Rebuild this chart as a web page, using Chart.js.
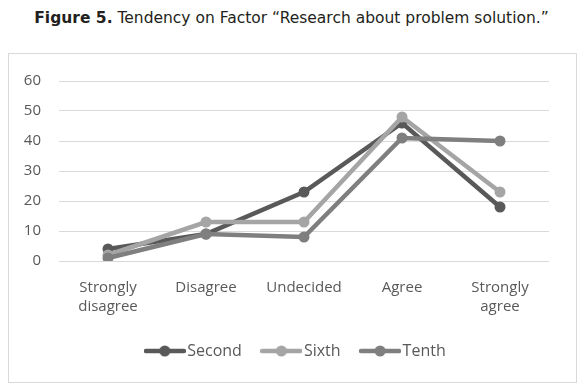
<!DOCTYPE html>
<html>
<head>
<meta charset="utf-8">
<script src="https://cdn.jsdelivr.net/npm/chart.js@4.4.1/dist/chart.umd.min.js"></script>
<style>
  html, body { margin: 0; padding: 0; background: #ffffff; }
  body { width: 580px; height: 388px; position: relative; overflow: hidden; }
  #title { position: absolute; left: 0; top: 8px; width: 583px; text-align: center; white-space: nowrap;
           font-family: "DejaVu Sans", sans-serif; font-size: 15.5px; line-height: 20px; color: #231f20; }
  #title b { font-weight: 700; }
  #box { position: absolute; left: 8px; top: 53px; width: 567px; height: 328px;
         border: 1px solid #d9d9d9; box-sizing: content-box; }
  #chart { display: block; }
</style>
</head>
<body>
<div id="title"><b>Figure 5.</b> Tendency on Factor “Research about problem solution.”</div>
<div id="box"><canvas id="chart" width="567" height="328"></canvas></div>
<script>
const categories = [["Strongly", "disagree"], "Disagree", "Undecided", "Agree", ["Strongly", "agree"]];
const seriesNames = ["Second", "Sixth", "Tenth"];
const secondValues = [4, 9, 23, 46, 18];
const sixthValues = [2, 13, 13, 48, 23];
const tenthValues = [1, 9, 8, 41, 40];
const yTicks = [0, 10, 20, 30, 40, 50, 60];

const colors = ["#595959", "#a5a5a5", "#7f7f7f"];
const FONT = "'Open Sans', sans-serif";

function legendIcon(color) {
  const c = document.createElement('canvas');
  c.width = 42; c.height = 14;
  const g = c.getContext('2d');
  g.strokeStyle = color; g.lineWidth = 4.5; g.lineCap = 'round';
  g.beginPath(); g.moveTo(2, 7); g.lineTo(40, 7); g.stroke();
  g.fillStyle = color;
  g.beginPath(); g.arc(21, 7, 5.5, 0, Math.PI * 2); g.fill();
  return c;
}
const icons = colors.map(legendIcon);

const shiftLegend = {
  id: 'shiftLegend',
  afterLayout(chart) {
    if (chart.legend) { chart.legend.left += 19; chart.legend.right += 19; }
  }
};

const dataSeries = [secondValues, sixthValues, tenthValues];
const datasets = dataSeries.map((vals, i) => ({
  label: seriesNames[i],
  data: vals,
  borderColor: colors[i],
  backgroundColor: colors[i],
  borderWidth: 4.5,
  pointRadius: 5.5,
  pointHoverRadius: 5.5,
  pointBorderWidth: 0,
  pointBackgroundColor: colors[i],
  tension: 0,
  order: 3 - i
}));

new Chart(document.getElementById('chart'), {
  type: 'line',
  data: { labels: categories, datasets: datasets },
  plugins: [shiftLegend],
  options: {
    responsive: false,
    animation: false,
    layout: { padding: { left: 0, right: 27, top: 25, bottom: 13 } },
    plugins: {
      title: { display: false },
      tooltip: { enabled: false },
      legend: {
        position: 'bottom',
        labels: {
          usePointStyle: true,
          pointStyleWidth: 29,
          padding: 25,
          color: '#595959',
          font: { family: FONT, size: 16 },
          sort: (a, b) => a.datasetIndex - b.datasetIndex,
          generateLabels: (chart) => {
            const items = Chart.defaults.plugins.legend.labels.generateLabels(chart);
            items.forEach(it => { it.pointStyle = icons[it.datasetIndex]; });
            return items;
          }
        }
      }
    },
    scales: {
      x: {
        offset: true,
        grid: { display: false, drawTicks: false },
        border: { display: false },
        ticks: { color: '#595959', font: { family: FONT, size: 15, lineHeight: 1.22 }, padding: 18, maxRotation: 0 },
        afterFit: (s) => { s.height = 57; }
      },
      y: {
        min: 0, max: 60,
        afterBuildTicks: (s) => { s.ticks = yTicks.map(v => ({ value: v })); },
        grid: { color: '#d9d9d9', lineWidth: 1, drawTicks: false },
        border: { display: false },
        ticks: { color: '#595959', font: { family: FONT, size: 15 }, padding: 18 },
        afterFit: (s) => { s.width = 50; }
      }
    }
  }
});
</script>
</body>
</html>
